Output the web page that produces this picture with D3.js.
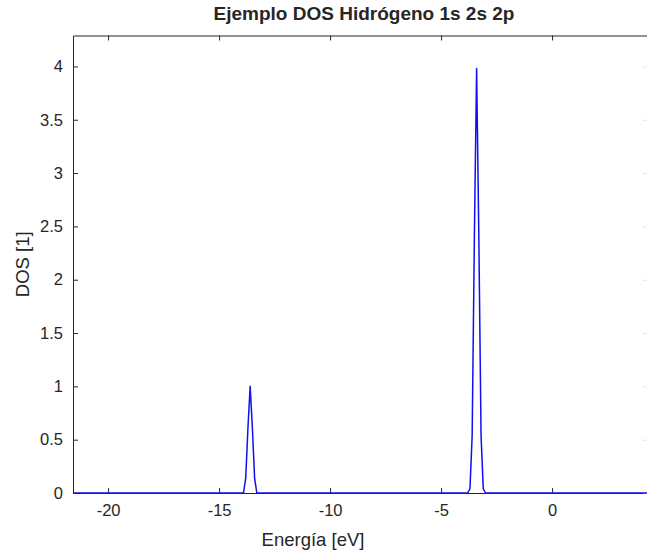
<!DOCTYPE html>
<html>
<head>
<meta charset="utf-8">
<script src="https://cdn.jsdelivr.net/npm/d3@7"></script>
<style>
  html, body { margin: 0; padding: 0; background: #fff; }
  svg { display: block; }
  text { font-family: "Liberation Sans", Arial, Helvetica, sans-serif; fill: #262626; }
</style>
</head>
<body>
<svg id="chart" width="647" height="552"></svg>
<script>
// Density of states for hydrogen: 1s level and the degenerate 2s/2p level
const energy = [-21.6, -13.9, -13.8, -13.7, -13.6, -13.5, -13.4, -13.3,
                -3.8, -3.7, -3.6, -3.5, -3.4, -3.3, -3.2, -3.1, -3.0, 4.4];
const dos    = [0, 0, 0.14, 0.61, 1.0, 0.61, 0.14, 0,
                0, 0.04, 0.54, 2.41, 3.98, 2.41, 0.54, 0.04, 0, 0];

const xTicks = [-20, -15, -10, -5, 0];
const yTicks = [0, 0.5, 1, 1.5, 2, 2.5, 3, 3.5, 4];
const xDomain = [-21.58, 4.32];
const yDomain = [0, 4.29];

const titleText = "Ejemplo DOS Hidrógeno 1s 2s 2p";
const xLabelText = "Energía [eV]";
const yLabelText = "DOS [1]";

const margin = { left: 73, right: -1, top: 35.5, bottom: 59 };
const W = 647, H = 552;
const svg = d3.select("#chart");

const x = d3.scaleLinear().domain(xDomain).range([margin.left, W - margin.right]);
const y = d3.scaleLinear().domain(yDomain).range([H - margin.bottom, margin.top]);

const axisColor = "#262626";
const tickLen = 5;

// Plot line, clipped to the axes box
svg.append("clipPath").attr("id", "clip")
  .append("rect")
  .attr("x", x.range()[0]).attr("y", y.range()[1] - 2)
  .attr("width", x.range()[1] - x.range()[0])
  .attr("height", y.range()[0] - y.range()[1] + 4);

const pts = energy.map((e, i) => [e, dos[i]]);
const line = d3.line().x(d => x(d[0])).y(d => y(d[1]));

// Axes (ticks pointing inward, box style)
const axBottom = svg.append("g")
  .attr("transform", `translate(0,${y.range()[0]})`)
  .call(d3.axisBottom(x).tickValues(xTicks).tickSizeInner(-tickLen).tickSizeOuter(0).tickPadding(11)
        .tickFormat(d => String(d)));
const axTop = svg.append("g")
  .attr("transform", `translate(0,${y.range()[1]})`)
  .call(d3.axisTop(x).tickValues(xTicks).tickSizeInner(-tickLen).tickSizeOuter(0).tickFormat(""));
const axLeft = svg.append("g")
  .attr("transform", `translate(${x.range()[0]},0)`)
  .call(d3.axisLeft(y).tickValues(yTicks).tickSizeInner(-tickLen).tickSizeOuter(0).tickPadding(10)
        .tickFormat(d => String(d)));
const axRight = svg.append("g")
  .attr("transform", `translate(${x.range()[1]},0)`)
  .call(d3.axisRight(y).tickValues(yTicks).tickSizeInner(-tickLen).tickSizeOuter(0).tickFormat(""));

[axBottom, axTop, axLeft, axRight].forEach(g => {
  g.selectAll("path.domain").attr("stroke", axisColor).attr("stroke-width", 1);
  g.selectAll(".tick line").attr("stroke", axisColor).attr("stroke-width", 1);
  g.selectAll(".tick text").attr("font-size", 16.5)
    .attr("font-family", "'Liberation Sans', Arial, sans-serif").attr("fill", axisColor);
});
axRight.selectAll(".tick line").attr("stroke", "#e4e4e4");

svg.append("path")
  .datum(pts)
  .attr("clip-path", "url(#clip)")
  .attr("fill", "none")
  .attr("stroke", "#1010f0")
  .attr("stroke-width", 1.5)
  .attr("stroke-linejoin", "round")
  .attr("d", line);

// Title and axis labels
svg.append("text")
  .attr("x", 364).attr("y", 20)
  .attr("text-anchor", "middle")
  .attr("font-size", 19).attr("font-weight", "bold")
  .text(titleText);

svg.append("text")
  .attr("x", (x.range()[0] + 551) / 2 + 1).attr("y", 546)
  .attr("text-anchor", "middle")
  .attr("font-size", 18.5)
  .text(xLabelText);

svg.append("text")
  .attr("transform", `translate(29,${(y.range()[0] + y.range()[1]) / 2}) rotate(-90)`)
  .attr("text-anchor", "middle")
  .attr("font-size", 18.5)
  .text(yLabelText);
</script>
</body>
</html>
